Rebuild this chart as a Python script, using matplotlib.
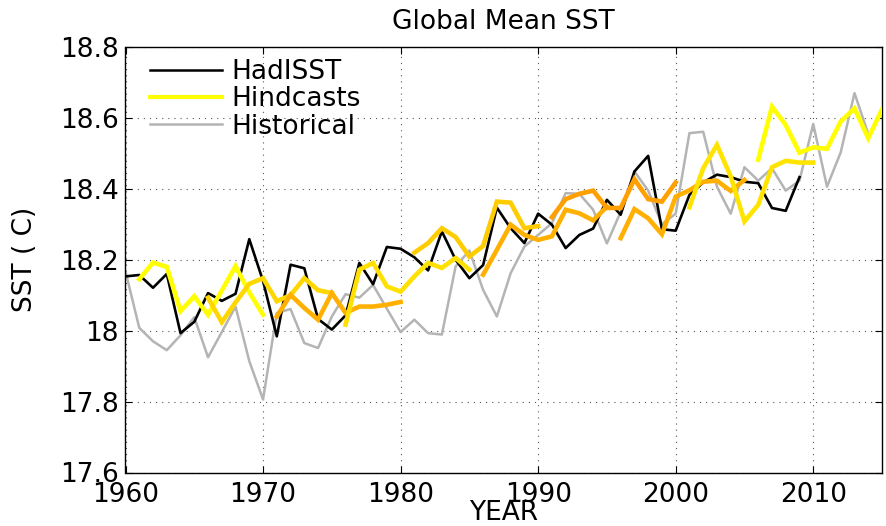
import numpy as np
import matplotlib
matplotlib.use("Agg")
import matplotlib.pyplot as plt
from matplotlib.lines import Line2D

# ---------------- data ----------------
had_years = list(range(1960, 2010))
had_sst = [18.153, 18.157, 18.121, 18.160, 17.993, 18.025, 18.106, 18.084, 18.104, 18.258,
           18.140, 17.984, 18.186, 18.176, 18.033, 18.003, 18.043, 18.191, 18.131, 18.236,
           18.231, 18.207, 18.170, 18.280, 18.200, 18.148, 18.185, 18.347, 18.289, 18.247,
           18.330, 18.299, 18.233, 18.270, 18.288, 18.369, 18.327, 18.449, 18.493, 18.286,
           18.282, 18.383, 18.418, 18.440, 18.433, 18.420, 18.416, 18.346, 18.338, 18.433]

hist_years = list(range(1960, 2015))
hist_sst = [18.167, 18.008, 17.970, 17.945, 17.987, 18.038, 17.925, 17.996, 18.068, 17.914,
            17.806, 18.050, 18.061, 17.965, 17.951, 18.040, 18.103, 18.093, 18.129, 18.062,
            17.996, 18.031, 17.993, 17.989, 18.181, 18.226, 18.115, 18.040, 18.162, 18.237,
            18.270, 18.303, 18.388, 18.386, 18.341, 18.246, 18.335, 18.449, 18.395, 18.300,
            18.330, 18.557, 18.561, 18.406, 18.330, 18.461, 18.423, 18.458, 18.395, 18.423,
            18.583, 18.406, 18.503, 18.670, 18.555]

hind_starts = [1961, 1966, 1971, 1976, 1981, 1986, 1991, 1996, 2001, 2006]
hind_1961 = [18.145, 18.192, 18.180, 18.055, 18.097, 18.045, 18.113, 18.182, 18.108, 18.045]
hind_1966 = [18.093, 18.024, 18.080, 18.132, 18.148, 18.083, 18.100, 18.148, 18.114, 18.106]
hind_1971 = [18.040, 18.101, 18.064, 18.031, 18.106, 18.050, 18.068, 18.068, 18.073, 18.081]
hind_1976 = [18.017, 18.172, 18.191, 18.125, 18.110, 18.153, 18.191, 18.177, 18.205, 18.172]
hind_1981 = [18.220, 18.247, 18.289, 18.264, 18.209, 18.239, 18.364, 18.361, 18.289, 18.295]
hind_1986 = [18.158, 18.228, 18.299, 18.270, 18.256, 18.266, 18.341, 18.331, 18.311, 18.350]
hind_1991 = [18.320, 18.371, 18.386, 18.395, 18.346, 18.346, 18.427, 18.371, 18.364, 18.418]
hind_1996 = [18.261, 18.343, 18.317, 18.272, 18.378, 18.396, 18.420, 18.423, 18.394, 18.425]
hind_2001 = [18.348, 18.458, 18.524, 18.435, 18.308, 18.355, 18.461, 18.479, 18.474, 18.474]
hind_2006 = [18.482, 18.632, 18.580, 18.502, 18.517, 18.513, 18.590, 18.627, 18.543, 18.624]
hind_values = [hind_1961, hind_1966, hind_1971, hind_1976, hind_1981,
               hind_1986, hind_1991, hind_1996, hind_2001, hind_2006]
hind_colors = ['#FFFF00', '#FFD700', '#FFB000', '#FFE000', '#FFCC00',
               '#FFB000', '#FFA000', '#FFB000', '#FFE400', '#FFFF00']

xticks = [1960, 1970, 1980, 1990, 2000, 2010]
yticks = [17.6, 17.8, 18.0, 18.2, 18.4, 18.6, 18.8]
ytick_labels = ['17.6', '17.8', '18', '18.2', '18.4', '18.6', '18.8']
legend_labels = ['HadISST', 'Hindcasts', 'Historical']

# ---------------- figure ----------------
plt.rcParams['font.family'] = ['DejaVu Sans']
W, H = 887, 526
fig = plt.figure(figsize=(W / 100, H / 100), dpi=100)
ax = fig.add_axes([125.5 / W, 1 - 472.5 / H, (882 - 125.5) / W, (472.5 - 47) / H])

ax.plot(hist_years, hist_sst, color='#B4B4B4', lw=1.8, zorder=2)
ax.plot(had_years, had_sst, color='black', lw=1.9, zorder=3)
for s, vals, c in zip(hind_starts, hind_values, hind_colors):
    yrs = list(range(s, s + len(vals)))
    ax.plot(yrs, vals, color=c, lw=3.3, zorder=4, solid_joinstyle='miter')

ax.set_xlim(1960, 2015)
ax.set_ylim(17.6, 18.8)
ax.set_xticks(xticks)
ax.set_xticklabels([str(x) for x in xticks])
ax.set_yticks(yticks)
ax.set_yticklabels(ytick_labels)

ax.grid(True, color='0.35', linestyle=(0, (1, 4.5)), lw=0.8)
ax.tick_params(direction='in', length=5, width=0.8, top=True, right=True,
               labelsize=19)
ax.tick_params(axis='y', pad=5)
ax.tick_params(axis='x', pad=7)
for sp in ax.spines.values():
    sp.set_linewidth(1.0)

ax.set_title('Global Mean SST', fontsize=19, pad=13)
ax.set_xlabel('YEAR', fontsize=19, labelpad=-6)
ax.set_ylabel('SST ( C)', fontsize=19, labelpad=16)

# legend
handles = [Line2D([], [], color='black', lw=1.8),
           Line2D([], [], color='#FFFF00', lw=3.0),
           Line2D([], [], color='#B4B4B4', lw=1.8)]
ax.legend(handles, legend_labels, loc='upper left',
          bbox_to_anchor=(0.032, 0.972), frameon=False, fontsize=19,
          borderpad=0, borderaxespad=0, handlelength=2.75, handletextpad=0.35,
          labelspacing=0.05)

fig.savefig('out.png', dpi=100)
